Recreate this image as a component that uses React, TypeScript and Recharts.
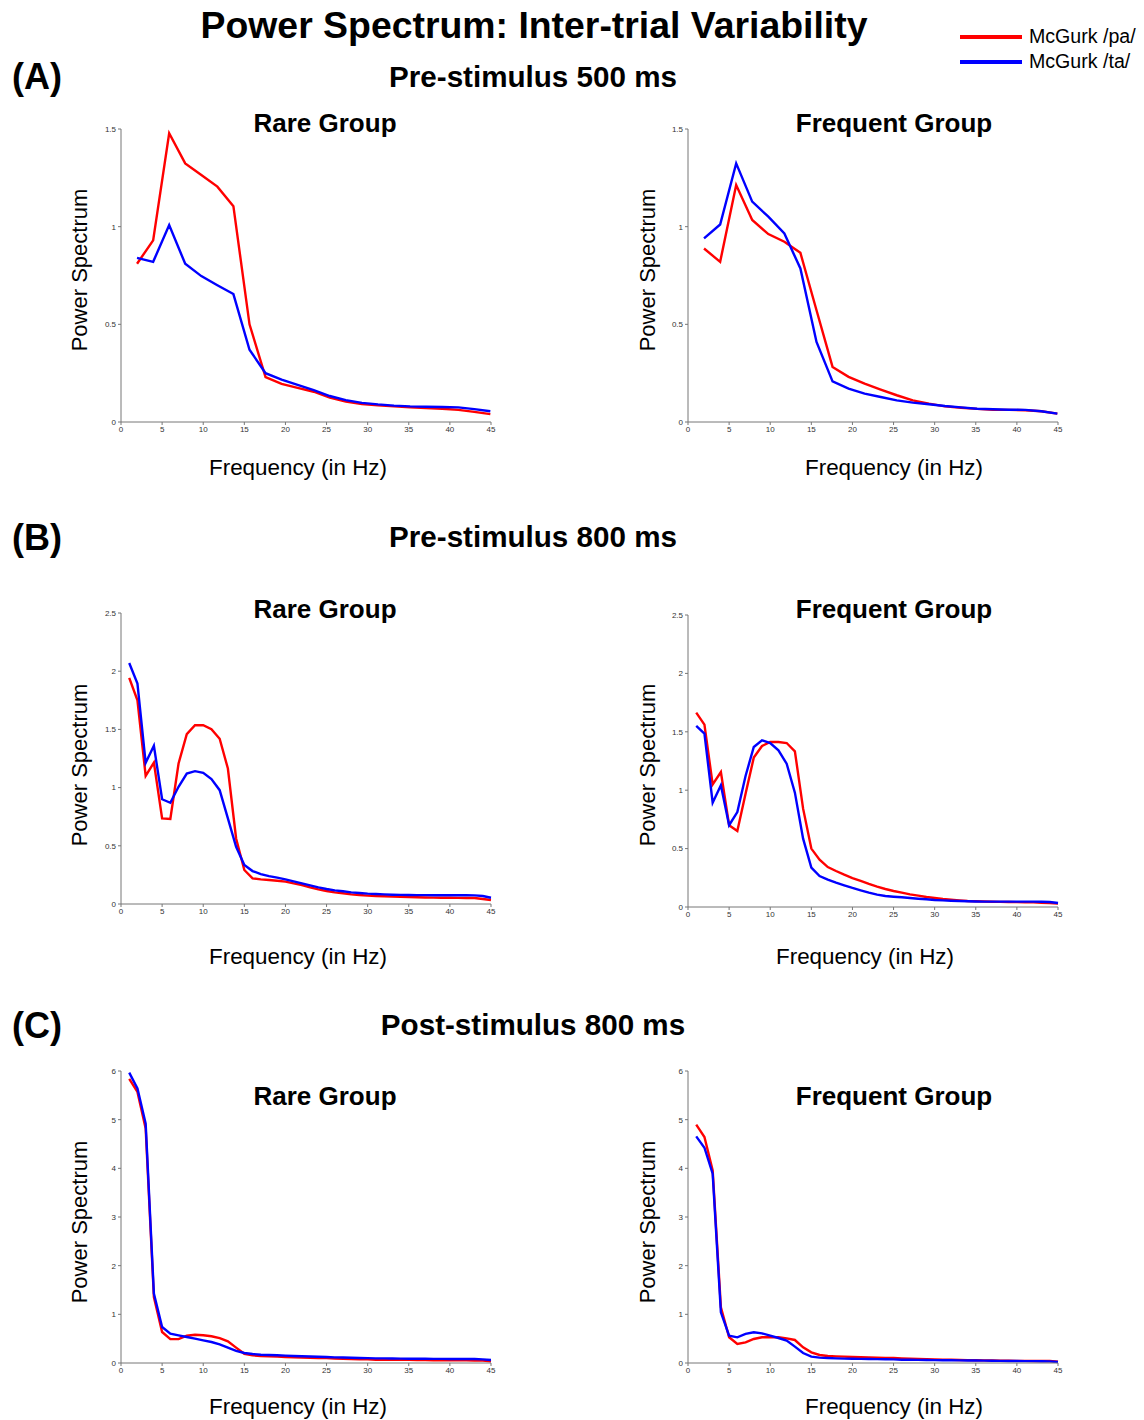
import { LineChart, Line, XAxis, YAxis } from "recharts";

const FONT = "'Liberation Sans', Arial, Helvetica, sans-serif";
const RED = "#ff0000";
const BLUE = "#0000ff";

// frequency bins
const freqA = [1.95, 3.91, 5.86, 7.81, 9.77, 11.72, 13.67, 15.63, 17.58, 19.53, 21.48, 23.44, 25.39, 27.34, 29.3, 31.25, 33.2, 35.16, 37.11, 39.06, 41.02, 42.97, 44.92];
const freqB = [1, 2, 3, 4, 5, 6, 7, 8, 9, 10, 11, 12, 13, 14, 15, 16, 17, 18, 19, 20, 21, 22, 23, 24, 25, 26, 27, 28, 29, 30, 31, 32, 33, 34, 35, 36, 37, 38, 39, 40, 41, 42, 43, 44, 45];

const xTicks = [0, 5, 10, 15, 20, 25, 30, 35, 40, 45];
const yTicksA = [0, 0.5, 1, 1.5];
const yTicksB = [0, 0.5, 1, 1.5, 2, 2.5];
const yTicksC = [0, 1, 2, 3, 4, 5, 6];

// (A) pre-stimulus 500 ms
const aRarePa = [0.81, 0.93, 1.478, 1.324, 1.265, 1.205, 1.105, 0.5, 0.23, 0.195, 0.175, 0.155, 0.125, 0.105, 0.092, 0.085, 0.08, 0.075, 0.072, 0.068, 0.062, 0.052, 0.04];
const aRareTa = [0.84, 0.82, 1.008, 0.81, 0.747, 0.7, 0.655, 0.37, 0.25, 0.217, 0.19, 0.163, 0.133, 0.112, 0.098, 0.09, 0.084, 0.08, 0.078, 0.077, 0.075, 0.066, 0.055];
const aFreqPa = [0.888, 0.82, 1.213, 1.034, 0.962, 0.923, 0.866, 0.572, 0.282, 0.231, 0.196, 0.166, 0.137, 0.111, 0.094, 0.08, 0.073, 0.067, 0.063, 0.062, 0.06, 0.055, 0.043];
const aFreqTa = [0.94, 1.011, 1.324, 1.128, 1.051, 0.965, 0.786, 0.41, 0.208, 0.171, 0.145, 0.128, 0.111, 0.099, 0.091, 0.082, 0.075, 0.068, 0.065, 0.063, 0.062, 0.055, 0.043];

// (B) pre-stimulus 800 ms
const bRarePa = [1.942, 1.75, 1.1, 1.215, 0.735, 0.73, 1.207, 1.459, 1.536, 1.536, 1.502, 1.42, 1.164, 0.563, 0.292, 0.22, 0.212, 0.206, 0.2, 0.192, 0.177, 0.163, 0.143, 0.126, 0.112, 0.1, 0.092, 0.083, 0.077, 0.072, 0.068, 0.066, 0.064, 0.062, 0.06, 0.058, 0.056, 0.055, 0.054, 0.054, 0.053, 0.052, 0.051, 0.043, 0.034];
const bRareTa = [2.07, 1.893, 1.213, 1.359, 0.9, 0.87, 1.007, 1.121, 1.141, 1.127, 1.073, 0.978, 0.735, 0.492, 0.335, 0.283, 0.257, 0.24, 0.226, 0.212, 0.195, 0.177, 0.16, 0.143, 0.129, 0.117, 0.109, 0.1, 0.094, 0.089, 0.086, 0.083, 0.08, 0.078, 0.077, 0.076, 0.076, 0.075, 0.075, 0.075, 0.075, 0.075, 0.074, 0.069, 0.054];
const bFreqPa = [1.664, 1.561, 1.05, 1.156, 0.7, 0.65, 0.97, 1.279, 1.378, 1.413, 1.413, 1.404, 1.333, 0.842, 0.5, 0.405, 0.342, 0.308, 0.277, 0.248, 0.223, 0.197, 0.174, 0.154, 0.137, 0.123, 0.108, 0.097, 0.086, 0.077, 0.068, 0.063, 0.057, 0.051, 0.049, 0.047, 0.045, 0.044, 0.043, 0.042, 0.041, 0.04, 0.037, 0.034, 0.029];
const bFreqTa = [1.55, 1.484, 0.893, 1.042, 0.7, 0.813, 1.122, 1.37, 1.427, 1.404, 1.341, 1.227, 0.979, 0.585, 0.337, 0.265, 0.234, 0.208, 0.186, 0.163, 0.143, 0.123, 0.106, 0.094, 0.088, 0.083, 0.077, 0.071, 0.066, 0.06, 0.057, 0.054, 0.051, 0.049, 0.047, 0.046, 0.046, 0.046, 0.046, 0.046, 0.046, 0.046, 0.045, 0.043, 0.034];

// (C) post-stimulus 800 ms
const cRarePa = [5.84, 5.57, 4.82, 1.356, 0.637, 0.49, 0.49, 0.56, 0.58, 0.57, 0.55, 0.51, 0.445, 0.315, 0.19, 0.158, 0.144, 0.137, 0.13, 0.123, 0.116, 0.112, 0.108, 0.104, 0.1, 0.09, 0.086, 0.082, 0.078, 0.075, 0.068, 0.067, 0.066, 0.065, 0.064, 0.062, 0.06, 0.058, 0.056, 0.055, 0.054, 0.053, 0.052, 0.05, 0.034];
const cRareTa = [5.966, 5.64, 4.92, 1.425, 0.74, 0.603, 0.568, 0.534, 0.5, 0.466, 0.432, 0.384, 0.315, 0.247, 0.205, 0.185, 0.171, 0.164, 0.158, 0.151, 0.144, 0.14, 0.134, 0.128, 0.123, 0.116, 0.112, 0.108, 0.104, 0.1, 0.096, 0.094, 0.092, 0.09, 0.088, 0.087, 0.086, 0.085, 0.084, 0.083, 0.083, 0.082, 0.082, 0.075, 0.062];
const cFreqPa = [4.897, 4.643, 3.957, 1.145, 0.528, 0.391, 0.425, 0.494, 0.528, 0.528, 0.528, 0.507, 0.473, 0.322, 0.219, 0.165, 0.144, 0.137, 0.13, 0.123, 0.117, 0.113, 0.11, 0.106, 0.103, 0.096, 0.09, 0.085, 0.08, 0.075, 0.068, 0.066, 0.063, 0.06, 0.057, 0.054, 0.051, 0.048, 0.046, 0.044, 0.043, 0.042, 0.041, 0.04, 0.027];
const cFreqTa = [4.657, 4.424, 3.889, 1.042, 0.562, 0.528, 0.597, 0.631, 0.61, 0.562, 0.514, 0.46, 0.336, 0.206, 0.13, 0.11, 0.103, 0.096, 0.089, 0.087, 0.085, 0.083, 0.08, 0.078, 0.075, 0.068, 0.066, 0.064, 0.062, 0.06, 0.058, 0.056, 0.054, 0.052, 0.05, 0.048, 0.046, 0.044, 0.042, 0.04, 0.039, 0.038, 0.036, 0.034, 0.02];

interface PanelProps {
  x0: number; // plot area left
  y0: number; // plot area top
  w: number;
  h: number;
  freqs: number[];
  pa: number[];
  ta: number[];
  yMax: number;
  yTicks: number[];
}

const ML = 30;
const MT = 8;
const XH = 16;

function Panel({ x0, y0, w, h, freqs, pa, ta, yMax, yTicks }: PanelProps) {
  const data = freqs.map((f, i) => ({ f, pa: pa[i], ta: ta[i] }));
  const tick = { fontSize: 8, fill: "#333", fontFamily: FONT };
  return (
    <div style={{ position: "absolute", left: x0 - ML, top: y0 - MT }}>
      <LineChart width={w + ML + 8} height={h + MT + XH} data={data} margin={{ top: MT, right: 8, left: 0, bottom: 0 }}>
        <XAxis
          type="number"
          dataKey="f"
          domain={[0, 45]}
          ticks={xTicks}
          interval={0}
          height={XH}
          tick={tick}
          tickSize={3}
          tickMargin={1}
          stroke="#777"
        />
        <YAxis
          type="number"
          domain={[0, yMax]}
          ticks={yTicks}
          interval={0}
          width={ML}
          tick={tick}
          tickSize={3}
          tickMargin={2}
          stroke="#777"
        />
        <Line type="linear" dataKey="pa" stroke={RED} strokeWidth={2.4} dot={false} isAnimationActive={false} />
        <Line type="linear" dataKey="ta" stroke={BLUE} strokeWidth={2.4} dot={false} isAnimationActive={false} />
      </LineChart>
    </div>
  );
}

function Txt({ x, y, size, bold, rotate, children }: { x: number; y: number; size: number; bold?: boolean; rotate?: boolean; children: string }) {
  return (
    <div
      style={{
        position: "absolute",
        left: x,
        top: y,
        transform: `translate(-50%, -50%)${rotate ? " rotate(-90deg)" : ""}`,
        fontFamily: FONT,
        fontSize: size,
        fontWeight: bold ? "bold" : "normal",
        whiteSpace: "nowrap",
        color: "#000",
        lineHeight: 1,
      }}
    >
      {children}
    </div>
  );
}

export default function App() {
  const W = 370;
  return (
    <div style={{ position: "absolute", left: 0, top: 0, width: 1144, height: 1420, background: "#fff", overflow: "hidden" }}>
      <Txt x={534} y={26} size={37.4} bold>Power Spectrum: Inter-trial Variability</Txt>

      {/* legend */}
      <div style={{ position: "absolute", left: 960, top: 35, width: 62, height: 4, background: RED }} />
      <div style={{ position: "absolute", left: 960, top: 60, width: 62, height: 4, background: BLUE }} />
      <div style={{ position: "absolute", left: 1029, top: 27, fontFamily: FONT, fontSize: 19.6, lineHeight: 1 }}>McGurk /pa/</div>
      <div style={{ position: "absolute", left: 1029, top: 52, fontFamily: FONT, fontSize: 19.6, lineHeight: 1 }}>McGurk /ta/</div>

      {/* (A) */}
      <Txt x={37} y={77} size={36} bold>(A)</Txt>
      <Txt x={533} y={77} size={29.6} bold>Pre-stimulus 500 ms</Txt>
      <Txt x={325} y={123} size={26} bold>Rare Group</Txt>
      <Txt x={894} y={123} size={26} bold>Frequent Group</Txt>
      <Txt x={80} y={270} size={22} rotate>Power Spectrum</Txt>
      <Txt x={648} y={270} size={22} rotate>Power Spectrum</Txt>
      <Txt x={298} y={468} size={22.4}>Frequency (in Hz)</Txt>
      <Txt x={894} y={468} size={22.4}>Frequency (in Hz)</Txt>
      <Panel x0={121} y0={129} w={W} h={293} freqs={freqA} pa={aRarePa} ta={aRareTa} yMax={1.5} yTicks={yTicksA} />
      <Panel x0={688} y0={129} w={W} h={293} freqs={freqA} pa={aFreqPa} ta={aFreqTa} yMax={1.5} yTicks={yTicksA} />

      {/* (B) */}
      <Txt x={37} y={538} size={36} bold>(B)</Txt>
      <Txt x={533} y={537} size={29.6} bold>Pre-stimulus 800 ms</Txt>
      <Txt x={325} y={609} size={26} bold>Rare Group</Txt>
      <Txt x={894} y={609} size={26} bold>Frequent Group</Txt>
      <Txt x={80} y={765} size={22} rotate>Power Spectrum</Txt>
      <Txt x={648} y={765} size={22} rotate>Power Spectrum</Txt>
      <Txt x={298} y={957} size={22.4}>Frequency (in Hz)</Txt>
      <Txt x={865} y={957} size={22.4}>Frequency (in Hz)</Txt>
      <Panel x0={121} y0={613} w={W} h={291} freqs={freqB} pa={bRarePa} ta={bRareTa} yMax={2.5} yTicks={yTicksB} />
      <Panel x0={688} y0={615} w={W} h={292} freqs={freqB} pa={bFreqPa} ta={bFreqTa} yMax={2.5} yTicks={yTicksB} />

      {/* (C) */}
      <Txt x={37} y={1026} size={36} bold>(C)</Txt>
      <Txt x={533} y={1025} size={29.6} bold>Post-stimulus 800 ms</Txt>
      <Txt x={325} y={1096} size={26} bold>Rare Group</Txt>
      <Txt x={894} y={1096} size={26} bold>Frequent Group</Txt>
      <Txt x={80} y={1222} size={22} rotate>Power Spectrum</Txt>
      <Txt x={648} y={1222} size={22} rotate>Power Spectrum</Txt>
      <Txt x={298} y={1407} size={22.4}>Frequency (in Hz)</Txt>
      <Txt x={894} y={1407} size={22.4}>Frequency (in Hz)</Txt>
      <Panel x0={121} y0={1071} w={W} h={292} freqs={freqB} pa={cRarePa} ta={cRareTa} yMax={6} yTicks={yTicksC} />
      <Panel x0={688} y0={1071} w={W} h={292} freqs={freqB} pa={cFreqPa} ta={cFreqTa} yMax={6} yTicks={yTicksC} />
    </div>
  );
}
